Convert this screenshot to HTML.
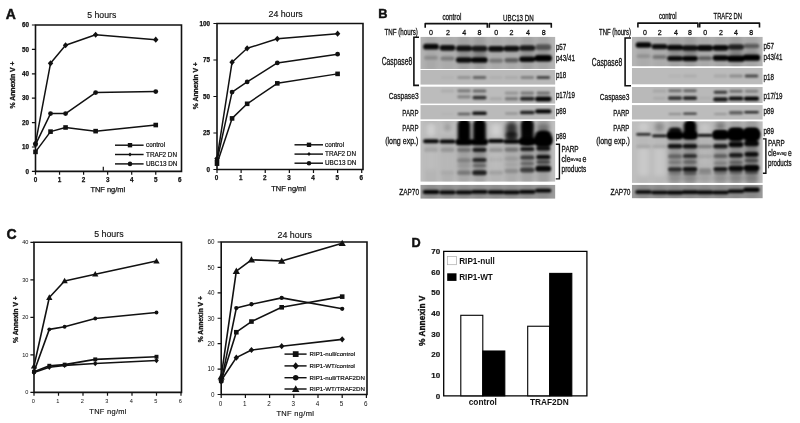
<!DOCTYPE html>
<html lang="en">
<head>
<meta charset="utf-8">
<title>Figure</title>
<style>
html,body{margin:0;padding:0;background:#fff;}
body{width:800px;height:423px;overflow:hidden;}
svg{display:block;font-family:'Liberation Sans',sans-serif;}
</style>
</head>
<body>
<svg width="800" height="423" viewBox="0 0 800 423">
<defs>
<filter id="b1" x="-30%" y="-100%" width="160%" height="300%"><feGaussianBlur stdDeviation="1.2 0.9"/></filter>
<filter id="b2" x="-30%" y="-100%" width="160%" height="300%"><feGaussianBlur stdDeviation="1.6 1.1"/></filter>
<filter id="b3" x="-30%" y="-50%" width="160%" height="200%"><feGaussianBlur stdDeviation="2 2.2"/></filter>
<filter id="bt" x="-5%" y="-5%" width="110%" height="110%"><feGaussianBlur stdDeviation="0.35"/></filter>
</defs>
<rect x="0" y="0" width="800" height="423" fill="#fff"/>

<text transform="translate(5.80,19.00)" font-size="14" font-weight="bold" text-anchor="start" fill="#111" stroke="#111" stroke-width="0.45">A</text>
<text transform="translate(378.20,17.60)" font-size="12.8" font-weight="bold" text-anchor="start" fill="#111" stroke="#111" stroke-width="0.45">B</text>
<text transform="translate(6.60,238.80)" font-size="14" font-weight="bold" text-anchor="start" fill="#111" stroke="#111" stroke-width="0.45">C</text>
<text transform="translate(411.40,247.30)" font-size="12.7" font-weight="bold" text-anchor="start" fill="#111" stroke="#111" stroke-width="0.45">D</text>
<g fill="#111" stroke="none">
<path d="M35.50,25.00H181.50V171.40H35.50z" fill="none" stroke="#111" stroke-width="1.6"/>
<path d="M31.90,171.40H35.50M31.90,147.00H35.50M31.90,122.60H35.50M31.90,98.20H35.50M31.90,73.80H35.50M31.90,49.40H35.50M31.90,25.00H35.50M35.50,171.40v3.4M59.55,171.40v3.4M83.60,171.40v3.4M107.65,171.40v3.4M131.70,171.40v3.4M155.75,171.40v3.4" fill="none" stroke="#111" stroke-width="1.2"/>
<text transform="translate(29.00,173.67)" font-size="6.3" font-weight="bold" text-anchor="end" fill="#111" stroke="#111" stroke-width="0.25">0</text>
<text transform="translate(29.00,149.27)" font-size="6.3" font-weight="bold" text-anchor="end" fill="#111" stroke="#111" stroke-width="0.25">10</text>
<text transform="translate(29.00,124.87)" font-size="6.3" font-weight="bold" text-anchor="end" fill="#111" stroke="#111" stroke-width="0.25">20</text>
<text transform="translate(29.00,100.47)" font-size="6.3" font-weight="bold" text-anchor="end" fill="#111" stroke="#111" stroke-width="0.25">30</text>
<text transform="translate(29.00,76.07)" font-size="6.3" font-weight="bold" text-anchor="end" fill="#111" stroke="#111" stroke-width="0.25">40</text>
<text transform="translate(29.00,51.67)" font-size="6.3" font-weight="bold" text-anchor="end" fill="#111" stroke="#111" stroke-width="0.25">50</text>
<text transform="translate(29.00,27.27)" font-size="6.3" font-weight="bold" text-anchor="end" fill="#111" stroke="#111" stroke-width="0.25">60</text>
<text transform="translate(35.50,182.10)" font-size="6.3" font-weight="bold" text-anchor="middle" fill="#111" stroke="#111" stroke-width="0.25">0</text>
<text transform="translate(59.55,182.10)" font-size="6.3" font-weight="bold" text-anchor="middle" fill="#111" stroke="#111" stroke-width="0.25">1</text>
<text transform="translate(83.60,182.10)" font-size="6.3" font-weight="bold" text-anchor="middle" fill="#111" stroke="#111" stroke-width="0.25">2</text>
<text transform="translate(107.65,182.10)" font-size="6.3" font-weight="bold" text-anchor="middle" fill="#111" stroke="#111" stroke-width="0.25">3</text>
<text transform="translate(131.70,182.10)" font-size="6.3" font-weight="bold" text-anchor="middle" fill="#111" stroke="#111" stroke-width="0.25">4</text>
<text transform="translate(155.75,182.10)" font-size="6.3" font-weight="bold" text-anchor="middle" fill="#111" stroke="#111" stroke-width="0.25">5</text>
<text transform="translate(179.80,182.10)" font-size="6.3" font-weight="bold" text-anchor="middle" fill="#111" stroke="#111" stroke-width="0.25">6</text>
<path d="M35.50,151.88L50.53,131.63L65.56,127.48L95.62,131.14L155.75,125.04" fill="none" stroke="#111" stroke-width="1.5" stroke-linejoin="round"/>
<rect x="33.20" y="149.58" width="4.60" height="4.60"/>
<rect x="48.23" y="129.33" width="4.60" height="4.60"/>
<rect x="63.26" y="125.18" width="4.60" height="4.60"/>
<rect x="93.33" y="128.84" width="4.60" height="4.60"/>
<rect x="153.45" y="122.74" width="4.60" height="4.60"/>
<path d="M35.50,143.34L50.53,63.31L65.56,45.25L95.62,34.76L155.75,39.64" fill="none" stroke="#111" stroke-width="1.5" stroke-linejoin="round"/>
<path d="M32.80,143.34L35.50,140.24L38.20,143.34L35.50,146.44z"/>
<path d="M47.83,63.31L50.53,60.21L53.23,63.31L50.53,66.41z"/>
<path d="M62.86,45.25L65.56,42.15L68.26,45.25L65.56,48.35z"/>
<path d="M92.92,34.76L95.62,31.66L98.33,34.76L95.62,37.86z"/>
<path d="M153.05,39.64L155.75,36.54L158.45,39.64L155.75,42.74z"/>
<path d="M35.50,144.56L50.53,113.57L65.56,113.57L95.62,92.59L155.75,91.61" fill="none" stroke="#111" stroke-width="1.5" stroke-linejoin="round"/>
<circle cx="35.50" cy="144.56" r="2.40"/>
<circle cx="50.53" cy="113.57" r="2.40"/>
<circle cx="65.56" cy="113.57" r="2.40"/>
<circle cx="95.62" cy="92.59" r="2.40"/>
<circle cx="155.75" cy="91.61" r="2.40"/>
</g>
<text transform="translate(101.75,17.80)" font-size="8.7" font-weight="normal" text-anchor="middle" fill="#111" stroke="#111" stroke-width="0.15">5 hours</text>
<text transform="translate(107.80,192.40)" font-size="7.45" font-weight="normal" text-anchor="middle" fill="#111" stroke="#111" stroke-width="0.25">TNF ng/ml</text>
<text transform="translate(14.90,85.00) rotate(-90)" font-size="6.85" font-weight="bold" text-anchor="middle" fill="#111" stroke="#111" stroke-width="0.3">% Annexin V +</text>
<g fill="#111">
<path d="M115.00,145.20H143.60" stroke="#111" stroke-width="1.45" fill="none"/>
<rect x="127.81" y="143.01" width="4.37" height="4.37"/>
<text transform="translate(146.00,147.36)" font-size="6.35" font-weight="normal" text-anchor="start" fill="#111" stroke="#111" stroke-width="0.2">control</text>
<path d="M115.00,154.50H143.60" stroke="#111" stroke-width="1.45" fill="none"/>
<path d="M128.25,154.50L130.00,152.49L131.75,154.50L130.00,156.51z"/>
<text transform="translate(146.00,156.66)" font-size="6.35" font-weight="normal" text-anchor="start" fill="#111" stroke="#111" stroke-width="0.2">TRAF2 DN</text>
<path d="M115.00,163.90H143.60" stroke="#111" stroke-width="1.45" fill="none"/>
<circle cx="130.00" cy="163.90" r="2.28"/>
<text transform="translate(146.00,166.06)" font-size="6.35" font-weight="normal" text-anchor="start" fill="#111" stroke="#111" stroke-width="0.2">UBC13 DN</text>
</g>
<path d="M103.3,166.8v4" stroke="#111" stroke-width="1.2"/>
<g fill="#111" stroke="none">
<path d="M217.00,23.50H363.00V169.50H217.00z" fill="none" stroke="#111" stroke-width="1.6"/>
<path d="M213.40,169.50H217.00M213.40,133.00H217.00M213.40,96.50H217.00M213.40,60.00H217.00M213.40,23.50H217.00M217.00,169.50v3.4M241.12,169.50v3.4M265.24,169.50v3.4M289.36,169.50v3.4M313.48,169.50v3.4M337.60,169.50v3.4M361.72,169.50v3.4" fill="none" stroke="#111" stroke-width="1.2"/>
<text transform="translate(210.10,171.77)" font-size="6.3" font-weight="bold" text-anchor="end" fill="#111" stroke="#111" stroke-width="0.25">0</text>
<text transform="translate(210.10,135.27)" font-size="6.3" font-weight="bold" text-anchor="end" fill="#111" stroke="#111" stroke-width="0.25">25</text>
<text transform="translate(210.10,98.77)" font-size="6.3" font-weight="bold" text-anchor="end" fill="#111" stroke="#111" stroke-width="0.25">50</text>
<text transform="translate(210.10,62.27)" font-size="6.3" font-weight="bold" text-anchor="end" fill="#111" stroke="#111" stroke-width="0.25">75</text>
<text transform="translate(210.10,25.77)" font-size="6.3" font-weight="bold" text-anchor="end" fill="#111" stroke="#111" stroke-width="0.25">100</text>
<text transform="translate(216.60,180.10)" font-size="6.3" font-weight="bold" text-anchor="middle" fill="#111" stroke="#111" stroke-width="0.25">0</text>
<text transform="translate(240.72,180.10)" font-size="6.3" font-weight="bold" text-anchor="middle" fill="#111" stroke="#111" stroke-width="0.25">1</text>
<text transform="translate(264.84,180.10)" font-size="6.3" font-weight="bold" text-anchor="middle" fill="#111" stroke="#111" stroke-width="0.25">2</text>
<text transform="translate(288.96,180.10)" font-size="6.3" font-weight="bold" text-anchor="middle" fill="#111" stroke="#111" stroke-width="0.25">3</text>
<text transform="translate(313.08,180.10)" font-size="6.3" font-weight="bold" text-anchor="middle" fill="#111" stroke="#111" stroke-width="0.25">4</text>
<text transform="translate(337.20,180.10)" font-size="6.3" font-weight="bold" text-anchor="middle" fill="#111" stroke="#111" stroke-width="0.25">5</text>
<text transform="translate(361.32,180.10)" font-size="6.3" font-weight="bold" text-anchor="middle" fill="#111" stroke="#111" stroke-width="0.25">6</text>
<path d="M217.00,163.66L232.07,118.40L247.15,103.80L277.30,83.36L337.60,73.87" fill="none" stroke="#111" stroke-width="1.5" stroke-linejoin="round"/>
<rect x="214.70" y="161.36" width="4.60" height="4.60"/>
<rect x="229.77" y="116.10" width="4.60" height="4.60"/>
<rect x="244.85" y="101.50" width="4.60" height="4.60"/>
<rect x="275.00" y="81.06" width="4.60" height="4.60"/>
<rect x="335.30" y="71.57" width="4.60" height="4.60"/>
<path d="M217.00,158.55L232.07,62.19L247.15,48.32L277.30,38.83L337.60,33.72" fill="none" stroke="#111" stroke-width="1.5" stroke-linejoin="round"/>
<path d="M214.30,158.55L217.00,155.45L219.70,158.55L217.00,161.65z"/>
<path d="M229.38,62.19L232.07,59.09L234.77,62.19L232.07,65.29z"/>
<path d="M244.45,48.32L247.15,45.22L249.85,48.32L247.15,51.42z"/>
<path d="M274.60,38.83L277.30,35.73L280.00,38.83L277.30,41.93z"/>
<path d="M334.90,33.72L337.60,30.62L340.30,33.72L337.60,36.82z"/>
<path d="M217.00,160.74L232.07,92.12L247.15,81.90L277.30,62.92L337.60,54.16" fill="none" stroke="#111" stroke-width="1.5" stroke-linejoin="round"/>
<circle cx="217.00" cy="160.74" r="2.40"/>
<circle cx="232.07" cy="92.12" r="2.40"/>
<circle cx="247.15" cy="81.90" r="2.40"/>
<circle cx="277.30" cy="62.92" r="2.40"/>
<circle cx="337.60" cy="54.16" r="2.40"/>
</g>
<text transform="translate(285.60,16.60)" font-size="8.8" font-weight="normal" text-anchor="middle" fill="#111" stroke="#111" stroke-width="0.15">24 hours</text>
<text transform="translate(288.60,191.40)" font-size="7.45" font-weight="normal" text-anchor="middle" fill="#111" stroke="#111" stroke-width="0.25">TNF ng/ml</text>
<text transform="translate(198.00,85.70) rotate(-90)" font-size="6.85" font-weight="bold" text-anchor="middle" fill="#111" stroke="#111" stroke-width="0.3">% Annexin V +</text>
<g fill="#111">
<path d="M294.50,144.80H323.00" stroke="#111" stroke-width="1.45" fill="none"/>
<rect x="306.81" y="142.62" width="4.37" height="4.37"/>
<text transform="translate(325.00,146.96)" font-size="6.35" font-weight="normal" text-anchor="start" fill="#111" stroke="#111" stroke-width="0.2">control</text>
<path d="M294.50,154.10H323.00" stroke="#111" stroke-width="1.45" fill="none"/>
<path d="M307.25,154.10L309.00,152.09L310.75,154.10L309.00,156.11z"/>
<text transform="translate(325.00,156.26)" font-size="6.35" font-weight="normal" text-anchor="start" fill="#111" stroke="#111" stroke-width="0.2">TRAF2 DN</text>
<path d="M294.50,163.20H323.00" stroke="#111" stroke-width="1.45" fill="none"/>
<circle cx="309.00" cy="163.20" r="2.28"/>
<text transform="translate(325.00,165.36)" font-size="6.35" font-weight="normal" text-anchor="start" fill="#111" stroke="#111" stroke-width="0.2">UBC13 DN</text>
</g>
<g fill="#111" stroke="none">
<path d="M34.00,242.30H181.50V392.40H34.00z" fill="none" stroke="#111" stroke-width="1.6"/>
<path d="M30.40,392.40H34.00M30.40,354.88H34.00M30.40,317.35H34.00M30.40,279.82H34.00M30.40,242.30H34.00M34.00,392.40v3.4M58.50,392.40v3.4M83.00,392.40v3.4M107.50,392.40v3.4M132.00,392.40v3.4M156.50,392.40v3.4M181.00,392.40v3.4" fill="none" stroke="#111" stroke-width="1.2"/>
<text transform="translate(28.40,394.42)" font-size="5.6" font-weight="normal" text-anchor="end" fill="#111">0</text>
<text transform="translate(28.40,356.89)" font-size="5.6" font-weight="normal" text-anchor="end" fill="#111">10</text>
<text transform="translate(28.40,319.37)" font-size="5.6" font-weight="normal" text-anchor="end" fill="#111">20</text>
<text transform="translate(28.40,281.84)" font-size="5.6" font-weight="normal" text-anchor="end" fill="#111">30</text>
<text transform="translate(28.40,244.32)" font-size="5.6" font-weight="normal" text-anchor="end" fill="#111">40</text>
<text transform="translate(33.20,403.00)" font-size="5.6" font-weight="normal" text-anchor="middle" fill="#111">0</text>
<text transform="translate(57.70,403.00)" font-size="5.6" font-weight="normal" text-anchor="middle" fill="#111">1</text>
<text transform="translate(82.20,403.00)" font-size="5.6" font-weight="normal" text-anchor="middle" fill="#111">2</text>
<text transform="translate(106.70,403.00)" font-size="5.6" font-weight="normal" text-anchor="middle" fill="#111">3</text>
<text transform="translate(131.20,403.00)" font-size="5.6" font-weight="normal" text-anchor="middle" fill="#111">4</text>
<text transform="translate(155.70,403.00)" font-size="5.6" font-weight="normal" text-anchor="middle" fill="#111">5</text>
<text transform="translate(180.20,403.00)" font-size="5.6" font-weight="normal" text-anchor="middle" fill="#111">6</text>
<path d="M34.00,366.13L49.31,297.46L64.62,280.95L95.25,274.20L156.50,261.06" fill="none" stroke="#111" stroke-width="1.6" stroke-linejoin="round"/>
<path d="M30.85,368.55L34.00,362.98L37.15,368.55z"/>
<path d="M46.16,299.88L49.31,294.31L52.46,299.88z"/>
<path d="M61.48,283.37L64.62,277.80L67.78,283.37z"/>
<path d="M92.10,276.61L95.25,271.05L98.40,276.61z"/>
<path d="M153.35,263.48L156.50,257.91L159.65,263.48z"/>
<path d="M34.00,371.76L49.31,329.36L64.62,326.73L95.25,318.48L156.50,312.47" fill="none" stroke="#111" stroke-width="1.6" stroke-linejoin="round"/>
<circle cx="34.00" cy="371.76" r="1.92"/>
<circle cx="49.31" cy="329.36" r="1.92"/>
<circle cx="64.62" cy="326.73" r="1.92"/>
<circle cx="95.25" cy="318.48" r="1.92"/>
<circle cx="156.50" cy="312.47" r="1.92"/>
<path d="M34.00,371.76L49.31,365.76L64.62,364.63L95.25,359.38L156.50,356.75" fill="none" stroke="#111" stroke-width="1.6" stroke-linejoin="round"/>
<rect x="32.05" y="369.81" width="3.91" height="3.91"/>
<rect x="47.36" y="363.80" width="3.91" height="3.91"/>
<rect x="62.67" y="362.68" width="3.91" height="3.91"/>
<rect x="93.30" y="357.42" width="3.91" height="3.91"/>
<rect x="154.54" y="354.80" width="3.91" height="3.91"/>
<path d="M34.00,372.51L49.31,367.26L64.62,365.38L95.25,363.51L156.50,360.50" fill="none" stroke="#111" stroke-width="1.6" stroke-linejoin="round"/>
<path d="M31.70,372.51L34.00,369.88L36.30,372.51L34.00,375.15z"/>
<path d="M47.02,367.26L49.31,364.62L51.61,367.26L49.31,369.89z"/>
<path d="M62.33,365.38L64.62,362.75L66.92,365.38L64.62,368.02z"/>
<path d="M92.95,363.51L95.25,360.87L97.55,363.51L95.25,366.14z"/>
<path d="M154.21,360.50L156.50,357.87L158.79,360.50L156.50,363.14z"/>
</g>
<text transform="translate(108.90,237.20)" font-size="8.8" font-weight="normal" text-anchor="middle" fill="#111" stroke="#111" stroke-width="0.15">5 hours</text>
<text transform="translate(108.00,413.60)" font-size="7.45" font-weight="normal" text-anchor="middle" fill="#111" letter-spacing="0.3" stroke="#111" stroke-width="0.15">TNF ng/ml</text>
<text transform="translate(17.50,319.60) rotate(-90)" font-size="6.82" font-weight="bold" text-anchor="middle" fill="#111" stroke="#111" stroke-width="0.3">% Annexin V +</text>
<g fill="#111" stroke="none">
<path d="M221.20,242.00H367.00V394.50H221.20z" fill="none" stroke="#111" stroke-width="1.6"/>
<path d="M217.60,394.50H221.20M217.60,369.08H221.20M217.60,343.66H221.20M217.60,318.24H221.20M217.60,292.82H221.20M217.60,267.40H221.20M217.60,241.98H221.20M221.20,394.50v3.4M245.40,394.50v3.4M269.60,394.50v3.4M293.80,394.50v3.4M318.00,394.50v3.4M342.20,394.50v3.4M366.40,394.50v3.4" fill="none" stroke="#111" stroke-width="1.2"/>
<text transform="translate(214.50,396.77)" font-size="6.3" font-weight="normal" text-anchor="end" fill="#111">0</text>
<text transform="translate(214.50,371.35)" font-size="6.3" font-weight="normal" text-anchor="end" fill="#111">10</text>
<text transform="translate(214.50,345.93)" font-size="6.3" font-weight="normal" text-anchor="end" fill="#111">20</text>
<text transform="translate(214.50,320.51)" font-size="6.3" font-weight="normal" text-anchor="end" fill="#111">30</text>
<text transform="translate(214.50,295.09)" font-size="6.3" font-weight="normal" text-anchor="end" fill="#111">40</text>
<text transform="translate(214.50,269.67)" font-size="6.3" font-weight="normal" text-anchor="end" fill="#111">50</text>
<text transform="translate(214.50,244.25)" font-size="6.3" font-weight="normal" text-anchor="end" fill="#111">60</text>
<text transform="translate(220.60,405.90)" font-size="6.3" font-weight="normal" text-anchor="middle" fill="#111">0</text>
<text transform="translate(244.80,405.90)" font-size="6.3" font-weight="normal" text-anchor="middle" fill="#111">1</text>
<text transform="translate(269.00,405.90)" font-size="6.3" font-weight="normal" text-anchor="middle" fill="#111">2</text>
<text transform="translate(293.20,405.90)" font-size="6.3" font-weight="normal" text-anchor="middle" fill="#111">3</text>
<text transform="translate(317.40,405.90)" font-size="6.3" font-weight="normal" text-anchor="middle" fill="#111">4</text>
<text transform="translate(341.60,405.90)" font-size="6.3" font-weight="normal" text-anchor="middle" fill="#111">5</text>
<text transform="translate(365.80,405.90)" font-size="6.3" font-weight="normal" text-anchor="middle" fill="#111">6</text>
<path d="M221.20,376.71L236.32,271.21L251.45,259.77L281.70,261.05L342.20,243.25" fill="none" stroke="#111" stroke-width="1.6" stroke-linejoin="round"/>
<path d="M217.60,379.47L221.20,373.11L224.80,379.47z"/>
<path d="M232.72,273.97L236.32,267.61L239.92,273.97z"/>
<path d="M247.85,262.53L251.45,256.17L255.05,262.53z"/>
<path d="M278.10,263.81L281.70,257.44L285.30,263.81z"/>
<path d="M338.60,246.01L342.20,239.65L345.80,246.01z"/>
<path d="M221.20,381.79L236.32,308.07L251.45,304.26L281.70,297.90L342.20,308.83" fill="none" stroke="#111" stroke-width="1.6" stroke-linejoin="round"/>
<circle cx="221.20" cy="381.79" r="2.16"/>
<circle cx="236.32" cy="308.07" r="2.16"/>
<circle cx="251.45" cy="304.26" r="2.16"/>
<circle cx="281.70" cy="297.90" r="2.16"/>
<circle cx="342.20" cy="308.83" r="2.16"/>
<path d="M221.20,380.52L236.32,332.22L251.45,321.54L281.70,307.31L342.20,296.63" fill="none" stroke="#111" stroke-width="1.6" stroke-linejoin="round"/>
<rect x="218.90" y="378.22" width="4.60" height="4.60"/>
<rect x="234.02" y="329.92" width="4.60" height="4.60"/>
<rect x="249.15" y="319.24" width="4.60" height="4.60"/>
<rect x="279.40" y="305.01" width="4.60" height="4.60"/>
<rect x="339.90" y="294.33" width="4.60" height="4.60"/>
<path d="M221.20,380.52L236.32,357.64L251.45,350.01L281.70,346.20L342.20,339.34" fill="none" stroke="#111" stroke-width="1.6" stroke-linejoin="round"/>
<path d="M218.50,380.52L221.20,377.42L223.90,380.52L221.20,383.62z"/>
<path d="M233.62,357.64L236.32,354.54L239.02,357.64L236.32,360.74z"/>
<path d="M248.75,350.01L251.45,346.91L254.15,350.01L251.45,353.12z"/>
<path d="M279.00,346.20L281.70,343.10L284.40,346.20L281.70,349.30z"/>
<path d="M339.50,339.34L342.20,336.24L344.90,339.34L342.20,342.44z"/>
</g>
<text transform="translate(294.75,237.50)" font-size="8.87" font-weight="normal" text-anchor="middle" fill="#111" stroke="#111" stroke-width="0.15">24 hours</text>
<text transform="translate(295.30,416.40)" font-size="7.5" font-weight="normal" text-anchor="middle" fill="#111" letter-spacing="0.3" stroke="#111" stroke-width="0.15">TNF ng/ml</text>
<text transform="translate(202.90,319.20) rotate(-90)" font-size="6.7" font-weight="bold" text-anchor="middle" fill="#111" stroke="#111" stroke-width="0.3">% Annexin V +</text>
<g fill="#111">
<path d="M284.50,354.10H306.60" stroke="#111" stroke-width="1.45" fill="none"/>
<rect x="292.82" y="351.23" width="5.75" height="5.75"/>
<text transform="translate(309.60,356.19)" font-size="6.15" font-weight="normal" text-anchor="start" fill="#111" stroke="#111" stroke-width="0.2">RIP1-null/control</text>
<path d="M284.50,365.90H306.60" stroke="#111" stroke-width="1.45" fill="none"/>
<path d="M292.59,365.90L295.70,362.33L298.81,365.90L295.70,369.46z"/>
<text transform="translate(309.60,367.99)" font-size="6.15" font-weight="normal" text-anchor="start" fill="#111" stroke="#111" stroke-width="0.2">RIP1-WT/control</text>
<path d="M284.50,377.70H306.60" stroke="#111" stroke-width="1.45" fill="none"/>
<circle cx="295.70" cy="377.70" r="2.76"/>
<text transform="translate(309.60,379.79)" font-size="6.15" font-weight="normal" text-anchor="start" fill="#111" stroke="#111" stroke-width="0.2">RIP1-null/TRAF2DN</text>
<path d="M284.50,389.00H306.60" stroke="#111" stroke-width="1.45" fill="none"/>
<path d="M291.95,391.88L295.70,385.25L299.45,391.88z"/>
<text transform="translate(309.60,391.09)" font-size="6.15" font-weight="normal" text-anchor="start" fill="#111" stroke="#111" stroke-width="0.2">RIP1-WT/TRAF2DN</text>
</g>
<g fill="#000">
<path d="M443.7,251.3H586.9V395.8H443.7z" fill="none" stroke="#000" stroke-width="1.3"/>
<text transform="translate(440.10,398.65)" font-size="8.0" font-weight="bold" text-anchor="end" fill="#111" stroke="#111" stroke-width="0.2">0</text>
<text transform="translate(440.10,378.01)" font-size="8.0" font-weight="bold" text-anchor="end" fill="#111" stroke="#111" stroke-width="0.2">10</text>
<text transform="translate(440.10,357.37)" font-size="8.0" font-weight="bold" text-anchor="end" fill="#111" stroke="#111" stroke-width="0.2">20</text>
<text transform="translate(440.10,336.73)" font-size="8.0" font-weight="bold" text-anchor="end" fill="#111" stroke="#111" stroke-width="0.2">30</text>
<text transform="translate(440.10,316.09)" font-size="8.0" font-weight="bold" text-anchor="end" fill="#111" stroke="#111" stroke-width="0.2">40</text>
<text transform="translate(440.10,295.45)" font-size="8.0" font-weight="bold" text-anchor="end" fill="#111" stroke="#111" stroke-width="0.2">50</text>
<text transform="translate(440.10,274.81)" font-size="8.0" font-weight="bold" text-anchor="end" fill="#111" stroke="#111" stroke-width="0.2">60</text>
<text transform="translate(440.10,254.17)" font-size="8.0" font-weight="bold" text-anchor="end" fill="#111" stroke="#111" stroke-width="0.2">70</text>
<rect x="460.8" y="315.30" width="22.00" height="80.50" fill="#fff" stroke="#000" stroke-width="1.1"/>
<rect x="482.8" y="351.01" width="22.00" height="44.79" fill="#000" stroke="#000" stroke-width="1.1"/>
<rect x="527.7" y="326.24" width="22.00" height="69.56" fill="#fff" stroke="#000" stroke-width="1.1"/>
<rect x="549.7" y="273.40" width="22.10" height="122.40" fill="#000" stroke="#000" stroke-width="1.1"/>
<rect x="447.4" y="256.4" width="9" height="8.3" fill="#fff" stroke="#aaa" stroke-width="0.7"/>
<rect x="447.2" y="273.3" width="9.3" height="7.6" fill="#000"/>
<text transform="translate(459.20,263.60)" font-size="8.2" font-weight="bold" text-anchor="start" fill="#111">RIP1-null</text>
<text transform="translate(459.20,279.90)" font-size="8.2" font-weight="bold" text-anchor="start" fill="#111">RIP1-WT</text>
<text transform="translate(482.80,405.30)" font-size="8.3" font-weight="bold" text-anchor="middle" fill="#111">control</text>
<text transform="translate(549.30,404.60)" font-size="8.3" font-weight="bold" text-anchor="middle" fill="#111">TRAF2DN</text>
<text transform="translate(424.60,320.80) rotate(-90)" font-size="8.4" font-weight="bold" text-anchor="middle" fill="#111" stroke="#111" stroke-width="0.35">% Annexin V</text>
</g>
<clipPath id="c1"><rect x="420.3" y="36.7" width="135.10" height="32.30"/></clipPath>
<g clip-path="url(#c1)">
<rect x="420.3" y="36.7" width="135.10" height="32.30" fill="#b4b4b4"/>
<g filter="url(#b1)" fill="#000">
<rect x="423.17" y="43.84" width="15.66" height="5.73" rx="2.60" fill-opacity="0.95"/>
<rect x="439.67" y="44.93" width="15.66" height="5.73" rx="2.60" fill-opacity="0.92"/>
<rect x="456.17" y="45.53" width="15.66" height="5.73" rx="2.60" fill-opacity="0.9"/>
<rect x="471.67" y="45.73" width="15.66" height="5.73" rx="2.60" fill-opacity="0.85"/>
<rect x="488.17" y="45.93" width="15.66" height="5.73" rx="2.60" fill-opacity="0.92"/>
<rect x="503.67" y="45.73" width="15.66" height="5.73" rx="2.60" fill-opacity="0.92"/>
<rect x="519.47" y="45.13" width="15.66" height="5.73" rx="2.60" fill-opacity="0.85"/>
<rect x="535.47" y="44.34" width="15.66" height="5.73" rx="2.60" fill-opacity="0.5"/>
<rect x="423.98" y="55.74" width="14.04" height="4.12" rx="1.87" fill-opacity="0.18"/>
<rect x="440.48" y="56.44" width="14.04" height="4.12" rx="1.87" fill-opacity="0.28"/>
<rect x="455.90" y="57.37" width="16.20" height="5.27" rx="2.40" fill-opacity="0.92"/>
<rect x="471.40" y="57.19" width="16.20" height="5.61" rx="2.55" fill-opacity="0.97"/>
<rect x="488.98" y="58.54" width="14.04" height="4.12" rx="1.87" fill-opacity="0.3"/>
<rect x="504.48" y="58.12" width="14.04" height="4.35" rx="1.98" fill-opacity="0.45"/>
<rect x="519.20" y="56.61" width="16.20" height="5.38" rx="2.45" fill-opacity="0.95"/>
<rect x="534.66" y="55.09" width="17.28" height="6.42" rx="2.92" fill-opacity="1"/>
</g>
<g filter="url(#b3)" fill="#000">
<rect x="457.00" y="50.00" width="14.00" height="8.00" rx="3.64" fill-opacity="0.12"/>
<rect x="472.50" y="50.00" width="14.00" height="8.00" rx="3.64" fill-opacity="0.2"/>
<rect x="520.30" y="50.00" width="14.00" height="8.00" rx="3.64" fill-opacity="0.1"/>
<rect x="536.30" y="50.00" width="14.00" height="8.00" rx="3.64" fill-opacity="0.12"/>
<rect x="424.50" y="33.00" width="13.00" height="40.00" rx="5.91" fill-opacity="0.06"/>
<rect x="441.00" y="33.00" width="13.00" height="40.00" rx="5.91" fill-opacity="0.05"/>
<rect x="457.50" y="33.00" width="13.00" height="40.00" rx="5.91" fill-opacity="0.1"/>
<rect x="473.00" y="33.00" width="13.00" height="40.00" rx="5.91" fill-opacity="0.12"/>
<rect x="489.50" y="33.00" width="13.00" height="40.00" rx="5.91" fill-opacity="0.06"/>
<rect x="505.00" y="33.00" width="13.00" height="40.00" rx="5.91" fill-opacity="0.06"/>
<rect x="520.80" y="33.00" width="13.00" height="40.00" rx="5.91" fill-opacity="0.1"/>
<rect x="536.80" y="33.00" width="13.00" height="40.00" rx="5.91" fill-opacity="0.08"/>
</g>
</g>
<clipPath id="c2"><rect x="420.3" y="70.0" width="135.10" height="14.80"/></clipPath>
<g clip-path="url(#c2)">
<rect x="420.3" y="70.0" width="135.10" height="14.80" fill="#b9b9b9"/>
<g filter="url(#b1)" fill="#000">
<rect x="440.75" y="76.02" width="13.50" height="2.96" rx="1.35" fill-opacity="0.03"/>
<rect x="457.25" y="76.02" width="13.50" height="2.96" rx="1.35" fill-opacity="0.2"/>
<rect x="472.75" y="76.02" width="13.50" height="2.96" rx="1.35" fill-opacity="0.45"/>
<rect x="489.25" y="76.02" width="13.50" height="2.96" rx="1.35" fill-opacity="0.05"/>
<rect x="504.75" y="76.02" width="13.50" height="2.96" rx="1.35" fill-opacity="0.08"/>
<rect x="520.55" y="76.02" width="13.50" height="2.96" rx="1.35" fill-opacity="0.3"/>
<rect x="536.55" y="76.02" width="13.50" height="2.96" rx="1.35" fill-opacity="0.62"/>
</g>
</g>
<clipPath id="c3"><rect x="420.3" y="86.4" width="135.10" height="17.40"/></clipPath>
<g clip-path="url(#c3)">
<rect x="420.3" y="86.4" width="135.10" height="17.40" fill="#bcbcbc"/>
<g filter="url(#b1)" fill="#000">
<rect x="440.75" y="89.41" width="13.50" height="3.19" rx="1.45" fill-opacity="0.08"/>
<rect x="457.25" y="89.20" width="13.50" height="3.19" rx="1.45" fill-opacity="0.35"/>
<rect x="472.75" y="89.41" width="13.50" height="3.19" rx="1.45" fill-opacity="0.45"/>
<rect x="504.75" y="91.61" width="13.50" height="3.19" rx="1.45" fill-opacity="0.2"/>
<rect x="520.55" y="91.61" width="13.50" height="3.19" rx="1.45" fill-opacity="0.35"/>
<rect x="536.55" y="91.61" width="13.50" height="3.19" rx="1.45" fill-opacity="0.4"/>
<rect x="457.25" y="95.20" width="13.50" height="3.19" rx="1.45" fill-opacity="0.3"/>
<rect x="472.48" y="95.77" width="14.04" height="3.65" rx="1.66" fill-opacity="0.72"/>
<rect x="489.52" y="97.16" width="12.96" height="3.08" rx="1.40" fill-opacity="0.1"/>
<rect x="504.75" y="96.99" width="13.50" height="3.42" rx="1.55" fill-opacity="0.35"/>
<rect x="520.01" y="96.76" width="14.58" height="3.88" rx="1.76" fill-opacity="0.8"/>
<rect x="535.20" y="96.60" width="16.20" height="4.80" rx="2.18" fill-opacity="0.97"/>
</g>
</g>
<clipPath id="c4"><rect x="420.3" y="105.1" width="135.10" height="14.50"/></clipPath>
<g clip-path="url(#c4)">
<rect x="420.3" y="105.1" width="135.10" height="14.50" fill="#bababa"/>
<g filter="url(#b1)" fill="#000">
<rect x="441.02" y="112.75" width="12.96" height="2.50" rx="1.14" fill-opacity="0.03"/>
<rect x="457.52" y="112.86" width="12.96" height="2.27" rx="1.03" fill-opacity="0.5"/>
<rect x="472.21" y="111.59" width="14.58" height="3.42" rx="1.55" fill-opacity="0.9"/>
<rect x="505.02" y="112.25" width="12.96" height="2.50" rx="1.14" fill-opacity="0.2"/>
<rect x="520.01" y="110.67" width="14.58" height="3.65" rx="1.66" fill-opacity="0.82"/>
<rect x="535.20" y="109.13" width="16.20" height="4.34" rx="1.97" fill-opacity="0.97"/>
</g>
</g>
<clipPath id="c5"><rect x="420.3" y="121.0" width="135.10" height="60.80"/></clipPath>
<g clip-path="url(#c5)">
<rect x="420.3" y="121.0" width="135.10" height="60.80" fill="#c0c0c0"/>
<g filter="url(#b3)" fill="#fff">
<rect x="426.50" y="123.50" width="9.00" height="13.00" rx="3" fill-opacity="0.45"/>
<rect x="441.50" y="122.50" width="12.00" height="13.00" rx="3" fill-opacity="0.3"/>
<rect x="491.00" y="123.50" width="10.00" height="13.00" rx="3" fill-opacity="0.45"/>
<rect x="426.00" y="150.00" width="10.00" height="20.00" rx="3" fill-opacity="0.15"/>
<rect x="442.50" y="152.00" width="10.00" height="20.00" rx="3" fill-opacity="0.12"/>
<rect x="491.00" y="152.00" width="10.00" height="20.00" rx="3" fill-opacity="0.12"/>
</g>
<g filter="url(#b1)" fill="#000">
<rect x="423.17" y="139.24" width="15.66" height="3.92" rx="1.78" fill-opacity="0.95"/>
<rect x="439.67" y="139.43" width="15.66" height="4.15" rx="1.89" fill-opacity="0.95"/>
<rect x="455.63" y="138.78" width="16.74" height="6.45" rx="2.93" fill-opacity="1"/>
<rect x="471.13" y="138.78" width="16.74" height="6.45" rx="2.93" fill-opacity="1"/>
<rect x="488.17" y="139.04" width="15.66" height="3.92" rx="1.78" fill-opacity="0.95"/>
<rect x="503.67" y="139.19" width="15.66" height="4.61" rx="2.10" fill-opacity="0.95"/>
<rect x="518.93" y="137.70" width="16.74" height="7.60" rx="3.45" fill-opacity="1"/>
<rect x="534.12" y="136.05" width="18.36" height="9.90" rx="4.50" fill-opacity="1"/>
<rect x="423.98" y="147.73" width="14.04" height="4.15" rx="1.89" fill-opacity="0.1"/>
<rect x="440.48" y="147.73" width="14.04" height="4.15" rx="1.89" fill-opacity="0.15"/>
<rect x="456.98" y="147.73" width="14.04" height="4.15" rx="1.89" fill-opacity="0.3"/>
<rect x="472.48" y="147.73" width="14.04" height="4.15" rx="1.89" fill-opacity="0.8"/>
<rect x="488.98" y="147.93" width="14.04" height="4.15" rx="1.89" fill-opacity="0.18"/>
<rect x="504.48" y="147.53" width="14.04" height="4.15" rx="1.89" fill-opacity="0.32"/>
<rect x="520.28" y="146.93" width="14.04" height="4.15" rx="1.89" fill-opacity="0.82"/>
<rect x="536.28" y="146.33" width="14.04" height="4.15" rx="1.89" fill-opacity="0.92"/>
<rect x="456.98" y="158.23" width="14.04" height="4.15" rx="1.89" fill-opacity="0.2"/>
<rect x="472.48" y="157.93" width="14.04" height="4.15" rx="1.89" fill-opacity="0.75"/>
<rect x="488.98" y="157.43" width="14.04" height="4.15" rx="1.89" fill-opacity="0.05"/>
<rect x="504.48" y="156.53" width="14.04" height="4.15" rx="1.89" fill-opacity="0.1"/>
<rect x="520.28" y="155.43" width="14.04" height="4.15" rx="1.89" fill-opacity="0.6"/>
<rect x="536.28" y="154.93" width="14.04" height="4.15" rx="1.89" fill-opacity="0.9"/>
<rect x="457.25" y="163.77" width="13.50" height="3.46" rx="1.57" fill-opacity="0.06"/>
<rect x="472.75" y="163.87" width="13.50" height="3.46" rx="1.57" fill-opacity="0.3"/>
<rect x="504.75" y="162.77" width="13.50" height="3.46" rx="1.57" fill-opacity="0.05"/>
<rect x="520.55" y="161.77" width="13.50" height="3.46" rx="1.57" fill-opacity="0.32"/>
<rect x="536.55" y="160.27" width="13.50" height="3.46" rx="1.57" fill-opacity="0.5"/>
<rect x="440.48" y="170.62" width="14.04" height="4.15" rx="1.89" fill-opacity="0.05"/>
<rect x="456.98" y="170.51" width="14.04" height="4.38" rx="1.99" fill-opacity="0.28"/>
<rect x="472.21" y="170.16" width="14.58" height="5.07" rx="2.30" fill-opacity="0.8"/>
<rect x="488.98" y="170.43" width="14.04" height="4.15" rx="1.89" fill-opacity="0.12"/>
<rect x="504.48" y="168.81" width="14.04" height="4.38" rx="1.99" fill-opacity="0.18"/>
<rect x="520.01" y="167.47" width="14.58" height="5.07" rx="2.30" fill-opacity="0.6"/>
<rect x="535.47" y="165.82" width="15.66" height="5.76" rx="2.62" fill-opacity="0.95"/>
</g>
<g filter="url(#b2)" fill="#000">
<rect x="457.75" y="119.00" width="12.50" height="24.00" rx="5.68" fill-opacity="1.0"/>
<rect x="473.25" y="119.00" width="12.50" height="24.00" rx="5.68" fill-opacity="1.0"/>
<rect x="505.50" y="132.00" width="12.00" height="8.00" rx="3.64" fill-opacity="0.5"/>
<rect x="521.05" y="119.00" width="12.50" height="26.00" rx="5.68" fill-opacity="0.97"/>
<rect x="534.80" y="130.50" width="17.00" height="14.00" rx="6.36" fill-opacity="1.0"/>
</g>
<g filter="url(#b3)" fill="#000">
<rect x="444.00" y="123.50" width="7.00" height="8.00" rx="3.18" fill-opacity="0.2"/>
<rect x="506.00" y="122.00" width="11.00" height="18.00" rx="5.00" fill-opacity="0.7"/>
<rect x="522.80" y="120.00" width="9.00" height="12.00" rx="4.09" fill-opacity="0.6"/>
<rect x="537.30" y="124.00" width="12.00" height="8.00" rx="3.64" fill-opacity="0.3"/>
<rect x="457.50" y="132.00" width="13.00" height="40.00" rx="5.91" fill-opacity="0.05"/>
<rect x="473.00" y="132.00" width="13.00" height="40.00" rx="5.91" fill-opacity="0.12"/>
<rect x="520.80" y="132.00" width="13.00" height="40.00" rx="5.91" fill-opacity="0.1"/>
<rect x="536.80" y="132.00" width="13.00" height="40.00" rx="5.91" fill-opacity="0.15"/>
<rect x="424.25" y="116.00" width="13.50" height="70.00" rx="6.14" fill-opacity="0.06"/>
<rect x="440.75" y="116.00" width="13.50" height="70.00" rx="6.14" fill-opacity="0.08"/>
<rect x="457.25" y="116.00" width="13.50" height="70.00" rx="6.14" fill-opacity="0.12"/>
<rect x="472.75" y="116.00" width="13.50" height="70.00" rx="6.14" fill-opacity="0.14"/>
<rect x="489.25" y="116.00" width="13.50" height="70.00" rx="6.14" fill-opacity="0.06"/>
<rect x="504.75" y="116.00" width="13.50" height="70.00" rx="6.14" fill-opacity="0.1"/>
<rect x="520.55" y="116.00" width="13.50" height="70.00" rx="6.14" fill-opacity="0.14"/>
<rect x="536.55" y="116.00" width="13.50" height="70.00" rx="6.14" fill-opacity="0.16"/>
</g>
</g>
<clipPath id="c6"><rect x="420.3" y="184.7" width="135.10" height="14.10"/></clipPath>
<g clip-path="url(#c6)">
<rect x="420.3" y="184.7" width="135.10" height="14.10" fill="#9c9c9c"/>
<g filter="url(#b1)" fill="#000">
<rect x="422.90" y="190.10" width="16.20" height="3.80" rx="1.73" fill-opacity="0.97"/>
<rect x="439.40" y="190.40" width="16.20" height="3.80" rx="1.73" fill-opacity="0.97"/>
<rect x="455.90" y="190.50" width="16.20" height="3.80" rx="1.73" fill-opacity="0.97"/>
<rect x="471.40" y="189.90" width="16.20" height="3.80" rx="1.73" fill-opacity="0.97"/>
<rect x="487.90" y="190.30" width="16.20" height="3.80" rx="1.73" fill-opacity="0.97"/>
<rect x="503.40" y="190.50" width="16.20" height="3.80" rx="1.73" fill-opacity="0.97"/>
<rect x="519.20" y="189.90" width="16.20" height="3.80" rx="1.73" fill-opacity="0.97"/>
<rect x="535.20" y="188.70" width="16.20" height="3.80" rx="1.73" fill-opacity="0.97"/>
</g>
<g filter="url(#b3)" fill="#000">
<rect x="423.25" y="185.00" width="15.50" height="14.00" rx="6.36" fill-opacity="0.12"/>
<rect x="439.75" y="185.00" width="15.50" height="14.00" rx="6.36" fill-opacity="0.12"/>
<rect x="456.25" y="185.00" width="15.50" height="14.00" rx="6.36" fill-opacity="0.12"/>
<rect x="471.75" y="185.00" width="15.50" height="14.00" rx="6.36" fill-opacity="0.12"/>
<rect x="488.25" y="185.00" width="15.50" height="14.00" rx="6.36" fill-opacity="0.12"/>
<rect x="503.75" y="185.00" width="15.50" height="14.00" rx="6.36" fill-opacity="0.12"/>
<rect x="519.55" y="185.00" width="15.50" height="14.00" rx="6.36" fill-opacity="0.12"/>
<rect x="535.55" y="185.00" width="15.50" height="14.00" rx="6.36" fill-opacity="0.12"/>
</g>
</g>
<clipPath id="c7"><rect x="631.8" y="36.7" width="131.00" height="29.70"/></clipPath>
<g clip-path="url(#c7)">
<rect x="631.8" y="36.7" width="131.00" height="29.70" fill="#b4b4b4"/>
<g filter="url(#b1)" fill="#000">
<rect x="635.67" y="42.25" width="15.66" height="5.50" rx="2.50" fill-opacity="0.97"/>
<rect x="651.67" y="44.07" width="15.66" height="5.27" rx="2.40" fill-opacity="0.92"/>
<rect x="667.17" y="44.63" width="15.66" height="5.73" rx="2.60" fill-opacity="0.95"/>
<rect x="682.17" y="45.13" width="15.66" height="5.73" rx="2.60" fill-opacity="0.9"/>
<rect x="697.17" y="45.02" width="15.66" height="5.96" rx="2.71" fill-opacity="0.95"/>
<rect x="712.67" y="44.93" width="15.66" height="5.73" rx="2.60" fill-opacity="0.95"/>
<rect x="728.17" y="44.25" width="15.66" height="5.50" rx="2.50" fill-opacity="0.8"/>
<rect x="743.67" y="43.71" width="15.66" height="4.58" rx="2.08" fill-opacity="0.45"/>
<rect x="636.48" y="54.37" width="14.04" height="3.66" rx="1.66" fill-opacity="0.15"/>
<rect x="652.48" y="55.05" width="14.04" height="3.89" rx="1.77" fill-opacity="0.3"/>
<rect x="667.17" y="56.08" width="15.66" height="5.04" rx="2.29" fill-opacity="0.92"/>
<rect x="682.17" y="55.97" width="15.66" height="5.27" rx="2.40" fill-opacity="0.97"/>
<rect x="698.25" y="56.14" width="13.50" height="4.12" rx="1.87" fill-opacity="0.45"/>
<rect x="712.67" y="55.37" width="15.66" height="5.27" rx="2.40" fill-opacity="0.97"/>
<rect x="727.36" y="55.51" width="17.28" height="6.19" rx="2.81" fill-opacity="1"/>
<rect x="742.86" y="54.51" width="17.28" height="6.19" rx="2.81" fill-opacity="1"/>
</g>
<g filter="url(#b3)" fill="#000">
<rect x="668.00" y="49.00" width="14.00" height="8.00" rx="3.64" fill-opacity="0.12"/>
<rect x="683.00" y="49.00" width="14.00" height="8.00" rx="3.64" fill-opacity="0.18"/>
<rect x="713.50" y="49.00" width="14.00" height="8.00" rx="3.64" fill-opacity="0.05"/>
<rect x="729.00" y="49.00" width="14.00" height="8.00" rx="3.64" fill-opacity="0.2"/>
<rect x="744.50" y="49.00" width="14.00" height="8.00" rx="3.64" fill-opacity="0.12"/>
<rect x="637.00" y="32.00" width="13.00" height="40.00" rx="5.91" fill-opacity="0.05"/>
<rect x="653.00" y="32.00" width="13.00" height="40.00" rx="5.91" fill-opacity="0.05"/>
<rect x="668.50" y="32.00" width="13.00" height="40.00" rx="5.91" fill-opacity="0.1"/>
<rect x="683.50" y="32.00" width="13.00" height="40.00" rx="5.91" fill-opacity="0.12"/>
<rect x="698.50" y="32.00" width="13.00" height="40.00" rx="5.91" fill-opacity="0.06"/>
<rect x="714.00" y="32.00" width="13.00" height="40.00" rx="5.91" fill-opacity="0.08"/>
<rect x="729.50" y="32.00" width="13.00" height="40.00" rx="5.91" fill-opacity="0.12"/>
<rect x="745.00" y="32.00" width="13.00" height="40.00" rx="5.91" fill-opacity="0.08"/>
</g>
</g>
<clipPath id="c8"><rect x="631.8" y="68" width="131.00" height="16.60"/></clipPath>
<g clip-path="url(#c8)">
<rect x="631.8" y="68" width="131.00" height="16.60" fill="#bbbbbb"/>
<g filter="url(#b1)" fill="#000">
<rect x="668.25" y="74.58" width="13.50" height="2.84" rx="1.29" fill-opacity="0.04"/>
<rect x="683.25" y="74.58" width="13.50" height="2.84" rx="1.29" fill-opacity="0.08"/>
<rect x="713.75" y="74.58" width="13.50" height="2.84" rx="1.29" fill-opacity="0.1"/>
<rect x="729.25" y="74.58" width="13.50" height="2.84" rx="1.29" fill-opacity="0.25"/>
<rect x="744.75" y="74.58" width="13.50" height="2.84" rx="1.29" fill-opacity="0.62"/>
</g>
</g>
<clipPath id="c9"><rect x="631.8" y="86.9" width="131.00" height="16.20"/></clipPath>
<g clip-path="url(#c9)">
<rect x="631.8" y="86.9" width="131.00" height="16.20" fill="#b9b9b9"/>
<g filter="url(#b1)" fill="#000">
<rect x="652.75" y="89.46" width="13.50" height="3.08" rx="1.40" fill-opacity="0.1"/>
<rect x="668.25" y="89.16" width="13.50" height="3.08" rx="1.40" fill-opacity="0.4"/>
<rect x="683.25" y="89.16" width="13.50" height="3.08" rx="1.40" fill-opacity="0.45"/>
<rect x="713.75" y="90.66" width="13.50" height="3.08" rx="1.40" fill-opacity="0.7"/>
<rect x="729.25" y="89.66" width="13.50" height="3.08" rx="1.40" fill-opacity="0.4"/>
<rect x="744.75" y="89.66" width="13.50" height="3.08" rx="1.40" fill-opacity="0.3"/>
<rect x="653.02" y="96.76" width="12.96" height="3.08" rx="1.40" fill-opacity="0.08"/>
<rect x="667.98" y="96.27" width="14.04" height="3.65" rx="1.66" fill-opacity="0.72"/>
<rect x="682.98" y="96.16" width="14.04" height="3.88" rx="1.76" fill-opacity="0.82"/>
<rect x="698.52" y="96.76" width="12.96" height="3.08" rx="1.40" fill-opacity="0.05"/>
<rect x="713.21" y="97.13" width="14.58" height="4.34" rx="1.97" fill-opacity="0.88"/>
<rect x="728.71" y="96.44" width="14.58" height="4.11" rx="1.87" fill-opacity="0.92"/>
<rect x="743.94" y="96.43" width="15.12" height="4.34" rx="1.97" fill-opacity="0.97"/>
</g>
</g>
<clipPath id="c10"><rect x="631.8" y="105.1" width="131.00" height="14.60"/></clipPath>
<g clip-path="url(#c10)">
<rect x="631.8" y="105.1" width="131.00" height="14.60" fill="#bcbcbc"/>
<g filter="url(#b1)" fill="#000">
<rect x="668.52" y="112.98" width="12.96" height="2.04" rx="0.93" fill-opacity="0.25"/>
<rect x="683.25" y="112.64" width="13.50" height="1.92" rx="0.87" fill-opacity="0.85"/>
<rect x="714.02" y="112.98" width="12.96" height="2.04" rx="0.93" fill-opacity="0.2"/>
<rect x="728.98" y="111.09" width="14.04" height="3.42" rx="1.55" fill-opacity="0.5"/>
<rect x="744.21" y="111.18" width="14.58" height="2.04" rx="0.93" fill-opacity="0.97"/>
</g>
</g>
<clipPath id="c11"><rect x="631.8" y="121.2" width="131.00" height="61.70"/></clipPath>
<g clip-path="url(#c11)">
<rect x="631.8" y="121.2" width="131.00" height="61.70" fill="#bfbfbf"/>
<g filter="url(#b3)" fill="#fff">
<rect x="638.50" y="122.50" width="10.00" height="9.00" rx="3" fill-opacity="0.3"/>
<rect x="700.00" y="123.00" width="10.00" height="10.00" rx="3" fill-opacity="0.3"/>
<rect x="638.00" y="148.00" width="11.00" height="28.00" rx="3" fill-opacity="0.25"/>
<rect x="654.00" y="148.00" width="11.00" height="28.00" rx="3" fill-opacity="0.22"/>
<rect x="700.50" y="152.00" width="9.00" height="12.00" rx="3" fill-opacity="0.12"/>
</g>
<g filter="url(#b1)" fill="#000">
<rect x="636.21" y="133.20" width="14.58" height="2.19" rx="1.00" fill-opacity="0.9"/>
<rect x="652.21" y="134.52" width="14.58" height="2.77" rx="1.26" fill-opacity="0.9"/>
<rect x="666.90" y="131.80" width="16.20" height="7.60" rx="3.45" fill-opacity="1"/>
<rect x="682.44" y="131.80" width="15.12" height="7.60" rx="3.45" fill-opacity="1"/>
<rect x="697.71" y="134.02" width="14.58" height="2.77" rx="1.26" fill-opacity="0.95"/>
<rect x="712.40" y="131.03" width="16.20" height="8.75" rx="3.98" fill-opacity="1"/>
<rect x="727.36" y="128.90" width="17.28" height="12.20" rx="5.55" fill-opacity="1"/>
<rect x="742.59" y="128.90" width="17.82" height="12.20" rx="5.55" fill-opacity="1"/>
<rect x="636.21" y="144.77" width="14.58" height="3.46" rx="1.57" fill-opacity="0.1"/>
<rect x="652.21" y="144.77" width="14.58" height="3.46" rx="1.57" fill-opacity="0.1"/>
<rect x="667.71" y="144.11" width="14.58" height="4.38" rx="1.99" fill-opacity="0.88"/>
<rect x="682.71" y="144.11" width="14.58" height="4.38" rx="1.99" fill-opacity="0.88"/>
<rect x="697.71" y="144.77" width="14.58" height="3.46" rx="1.57" fill-opacity="0.3"/>
<rect x="713.21" y="144.01" width="14.58" height="4.38" rx="1.99" fill-opacity="0.82"/>
<rect x="728.71" y="141.74" width="14.58" height="5.53" rx="2.51" fill-opacity="0.95"/>
<rect x="744.21" y="140.84" width="14.58" height="5.53" rx="2.51" fill-opacity="0.95"/>
<rect x="667.98" y="154.23" width="14.04" height="4.15" rx="1.89" fill-opacity="0.35"/>
<rect x="682.98" y="153.93" width="14.04" height="4.15" rx="1.89" fill-opacity="0.68"/>
<rect x="697.98" y="154.33" width="14.04" height="4.15" rx="1.89" fill-opacity="0.1"/>
<rect x="713.48" y="153.93" width="14.04" height="4.15" rx="1.89" fill-opacity="0.38"/>
<rect x="728.98" y="153.01" width="14.04" height="4.38" rx="1.99" fill-opacity="0.82"/>
<rect x="744.48" y="151.88" width="14.04" height="4.84" rx="2.20" fill-opacity="0.9"/>
<rect x="668.25" y="160.47" width="13.50" height="3.46" rx="1.57" fill-opacity="0.2"/>
<rect x="683.25" y="160.27" width="13.50" height="3.46" rx="1.57" fill-opacity="0.3"/>
<rect x="713.75" y="161.57" width="13.50" height="3.46" rx="1.57" fill-opacity="0.18"/>
<rect x="729.25" y="160.87" width="13.50" height="3.46" rx="1.57" fill-opacity="0.32"/>
<rect x="744.75" y="158.87" width="13.50" height="3.46" rx="1.57" fill-opacity="0.42"/>
<rect x="667.98" y="167.33" width="14.04" height="4.15" rx="1.89" fill-opacity="0.72"/>
<rect x="682.71" y="167.01" width="14.58" height="4.38" rx="1.99" fill-opacity="0.88"/>
<rect x="698.52" y="168.17" width="12.96" height="3.46" rx="1.57" fill-opacity="0.25"/>
<rect x="713.48" y="166.93" width="14.04" height="4.15" rx="1.89" fill-opacity="0.85"/>
<rect x="728.44" y="165.75" width="15.12" height="5.30" rx="2.41" fill-opacity="0.93"/>
<rect x="743.67" y="165.00" width="15.66" height="5.99" rx="2.72" fill-opacity="0.97"/>
<rect x="668.25" y="171.69" width="13.50" height="3.23" rx="1.47" fill-opacity="0.2"/>
<rect x="683.25" y="171.69" width="13.50" height="3.23" rx="1.47" fill-opacity="0.4"/>
<rect x="698.25" y="171.38" width="13.50" height="3.23" rx="1.47" fill-opacity="0.2"/>
<rect x="713.75" y="171.08" width="13.50" height="3.23" rx="1.47" fill-opacity="0.3"/>
<rect x="729.25" y="170.88" width="13.50" height="3.23" rx="1.47" fill-opacity="0.35"/>
<rect x="744.75" y="170.88" width="13.50" height="3.23" rx="1.47" fill-opacity="0.45"/>
</g>
<g filter="url(#b2)" fill="#000">
<rect x="668.50" y="127.50" width="13.00" height="9.00" rx="4.09" fill-opacity="0.9"/>
<rect x="683.75" y="120.00" width="12.50" height="18.00" rx="5.68" fill-opacity="1.0"/>
<rect x="713.50" y="130.00" width="14.00" height="6.00" rx="2.73" fill-opacity="0.9"/>
<rect x="728.50" y="127.50" width="15.00" height="9.00" rx="4.09" fill-opacity="0.95"/>
<rect x="744.00" y="127.50" width="15.00" height="9.00" rx="4.09" fill-opacity="0.97"/>
</g>
<g filter="url(#b3)" fill="#000">
<rect x="655.00" y="122.50" width="9.00" height="9.00" rx="4.09" fill-opacity="0.25"/>
<rect x="716.50" y="123.00" width="8.00" height="6.00" rx="2.73" fill-opacity="0.3"/>
<rect x="668.50" y="130.00" width="13.00" height="44.00" rx="5.91" fill-opacity="0.1"/>
<rect x="683.50" y="130.00" width="13.00" height="44.00" rx="5.91" fill-opacity="0.14"/>
<rect x="714.00" y="130.00" width="13.00" height="44.00" rx="5.91" fill-opacity="0.08"/>
<rect x="729.50" y="130.00" width="13.00" height="44.00" rx="5.91" fill-opacity="0.15"/>
<rect x="745.00" y="130.00" width="13.00" height="44.00" rx="5.91" fill-opacity="0.2"/>
<rect x="636.75" y="117.00" width="13.50" height="70.00" rx="6.14" fill-opacity="0.03"/>
<rect x="652.75" y="117.00" width="13.50" height="70.00" rx="6.14" fill-opacity="0.03"/>
<rect x="668.25" y="117.00" width="13.50" height="70.00" rx="6.14" fill-opacity="0.12"/>
<rect x="683.25" y="117.00" width="13.50" height="70.00" rx="6.14" fill-opacity="0.14"/>
<rect x="698.25" y="117.00" width="13.50" height="70.00" rx="6.14" fill-opacity="0.06"/>
<rect x="713.75" y="117.00" width="13.50" height="70.00" rx="6.14" fill-opacity="0.12"/>
<rect x="729.25" y="117.00" width="13.50" height="70.00" rx="6.14" fill-opacity="0.15"/>
<rect x="744.75" y="117.00" width="13.50" height="70.00" rx="6.14" fill-opacity="0.18"/>
<rect x="668.25" y="174.00" width="13.50" height="8.00" rx="3.64" fill-opacity="0.15"/>
<rect x="683.25" y="174.00" width="13.50" height="8.00" rx="3.64" fill-opacity="0.18"/>
<rect x="698.25" y="174.00" width="13.50" height="8.00" rx="3.64" fill-opacity="0.1"/>
<rect x="713.75" y="174.00" width="13.50" height="8.00" rx="3.64" fill-opacity="0.15"/>
<rect x="729.25" y="174.00" width="13.50" height="8.00" rx="3.64" fill-opacity="0.18"/>
<rect x="744.75" y="174.00" width="13.50" height="8.00" rx="3.64" fill-opacity="0.2"/>
</g>
</g>
<clipPath id="c12"><rect x="631.8" y="184.8" width="131.00" height="13.60"/></clipPath>
<g clip-path="url(#c12)">
<rect x="631.8" y="184.8" width="131.00" height="13.60" fill="#9a9a9a"/>
<g filter="url(#b1)" fill="#000">
<rect x="635.40" y="190.27" width="16.20" height="3.46" rx="1.57" fill-opacity="0.97"/>
<rect x="651.40" y="190.67" width="16.20" height="3.46" rx="1.57" fill-opacity="0.97"/>
<rect x="666.90" y="190.75" width="16.20" height="3.69" rx="1.68" fill-opacity="0.97"/>
<rect x="681.90" y="190.35" width="16.20" height="3.69" rx="1.68" fill-opacity="0.97"/>
<rect x="696.90" y="190.56" width="16.20" height="3.69" rx="1.68" fill-opacity="0.97"/>
<rect x="712.40" y="190.67" width="16.20" height="3.46" rx="1.57" fill-opacity="0.97"/>
<rect x="727.90" y="189.47" width="16.20" height="3.46" rx="1.57" fill-opacity="0.97"/>
<rect x="743.40" y="187.61" width="16.20" height="4.38" rx="1.99" fill-opacity="0.97"/>
</g>
<g filter="url(#b3)" fill="#000">
<rect x="635.75" y="185.00" width="15.50" height="14.00" rx="6.36" fill-opacity="0.12"/>
<rect x="651.75" y="185.00" width="15.50" height="14.00" rx="6.36" fill-opacity="0.12"/>
<rect x="667.25" y="185.00" width="15.50" height="14.00" rx="6.36" fill-opacity="0.12"/>
<rect x="682.25" y="185.00" width="15.50" height="14.00" rx="6.36" fill-opacity="0.12"/>
<rect x="697.25" y="185.00" width="15.50" height="14.00" rx="6.36" fill-opacity="0.12"/>
<rect x="712.75" y="185.00" width="15.50" height="14.00" rx="6.36" fill-opacity="0.12"/>
<rect x="728.25" y="185.00" width="15.50" height="14.00" rx="6.36" fill-opacity="0.12"/>
<rect x="743.75" y="185.00" width="15.50" height="14.00" rx="6.36" fill-opacity="0.12"/>
</g>
</g>
<text transform="translate(451.90,20.20) scale(0.69,1)" font-size="9.2" font-weight="normal" text-anchor="middle" fill="#111" stroke="#111" stroke-width="0.3">control</text>
<text transform="translate(518.40,21.10) scale(0.69,1)" font-size="9.0" font-weight="normal" text-anchor="middle" fill="#111" stroke="#111" stroke-width="0.3">UBC13 DN</text>
<path d="M425.2,27.8V23.6H487.3V27.8" fill="none" stroke="#111" stroke-width="1.6" stroke-linejoin="round"/>
<path d="M489.3,27.8V23.6H551.3V27.8" fill="none" stroke="#111" stroke-width="1.6" stroke-linejoin="round"/>
<text transform="translate(417.90,34.90) scale(0.675,1)" font-size="9.2" font-weight="normal" text-anchor="end" fill="#111" stroke="#111" stroke-width="0.3">TNF (hours)</text>
<text transform="translate(431.00,34.60) scale(0.9,1)" font-size="7.9" font-weight="normal" text-anchor="middle" fill="#111" stroke="#111" stroke-width="0.3">0</text>
<text transform="translate(448.00,34.60) scale(0.9,1)" font-size="7.9" font-weight="normal" text-anchor="middle" fill="#111" stroke="#111" stroke-width="0.3">2</text>
<text transform="translate(464.30,34.60) scale(0.9,1)" font-size="7.9" font-weight="normal" text-anchor="middle" fill="#111" stroke="#111" stroke-width="0.3">4</text>
<text transform="translate(479.50,34.60) scale(0.9,1)" font-size="7.9" font-weight="normal" text-anchor="middle" fill="#111" stroke="#111" stroke-width="0.3">8</text>
<text transform="translate(496.10,34.60) scale(0.9,1)" font-size="7.9" font-weight="normal" text-anchor="middle" fill="#111" stroke="#111" stroke-width="0.3">0</text>
<text transform="translate(511.40,34.60) scale(0.9,1)" font-size="7.9" font-weight="normal" text-anchor="middle" fill="#111" stroke="#111" stroke-width="0.3">2</text>
<text transform="translate(528.00,34.60) scale(0.9,1)" font-size="7.9" font-weight="normal" text-anchor="middle" fill="#111" stroke="#111" stroke-width="0.3">4</text>
<text transform="translate(543.70,34.60) scale(0.9,1)" font-size="7.9" font-weight="normal" text-anchor="middle" fill="#111" stroke="#111" stroke-width="0.3">8</text>
<text transform="translate(412.30,64.60) scale(0.68,1)" font-size="10" font-weight="normal" text-anchor="end" fill="#111" stroke="#111" stroke-width="0.3">Caspase8</text>
<path d="M419,37.3H413.9V85.4H419" fill="none" stroke="#111" stroke-width="1.6"/>
<text transform="translate(418.60,99.30) scale(0.673,1)" font-size="9.9" font-weight="normal" text-anchor="end" fill="#111" stroke="#111" stroke-width="0.3">Caspase3</text>
<text transform="translate(418.60,115.80) scale(0.62,1)" font-size="9.9" font-weight="normal" text-anchor="end" fill="#111" stroke="#111" stroke-width="0.3">PARP</text>
<text transform="translate(418.60,131.00) scale(0.62,1)" font-size="9.9" font-weight="normal" text-anchor="end" fill="#111" stroke="#111" stroke-width="0.3">PARP</text>
<text transform="translate(418.40,143.80) scale(0.735,1)" font-size="9.6" font-weight="normal" text-anchor="end" fill="#111" stroke="#111" stroke-width="0.3">(long exp.)</text>
<text transform="translate(419.10,194.90) scale(0.68,1)" font-size="9.6" font-weight="normal" text-anchor="end" fill="#111" stroke="#111" stroke-width="0.3">ZAP70</text>
<text transform="translate(555.90,50.30) scale(0.69,1)" font-size="9.0" font-weight="normal" text-anchor="start" fill="#111" stroke="#111" stroke-width="0.3">p57</text>
<text transform="translate(555.90,60.90) scale(0.69,1)" font-size="9.0" font-weight="normal" text-anchor="start" fill="#111" stroke="#111" stroke-width="0.3">p43/41</text>
<text transform="translate(555.90,78.20) scale(0.69,1)" font-size="9.0" font-weight="normal" text-anchor="start" fill="#111" stroke="#111" stroke-width="0.3">p18</text>
<text transform="translate(555.90,97.50) scale(0.69,1)" font-size="9.0" font-weight="normal" text-anchor="start" fill="#111" stroke="#111" stroke-width="0.3">p17/19</text>
<text transform="translate(555.90,114.00) scale(0.69,1)" font-size="9.0" font-weight="normal" text-anchor="start" fill="#111" stroke="#111" stroke-width="0.3">p89</text>
<text transform="translate(555.90,139.30) scale(0.69,1)" font-size="9.0" font-weight="normal" text-anchor="start" fill="#111" stroke="#111" stroke-width="0.3">p89</text>
<path d="M555.8,144.2H559.4V178.9H555.8" fill="none" stroke="#111" stroke-width="1.4"/>
<text transform="translate(561.60,151.80) scale(0.73,1)" font-size="8.8" font-weight="normal" text-anchor="start" fill="#111" stroke="#111" stroke-width="0.3">PARP</text>
<text transform="translate(561.60,171.70) scale(0.73,1)" font-size="8.8" font-weight="normal" text-anchor="start" fill="#111" stroke="#111" stroke-width="0.3">products</text>
<text transform="translate(561.6,161.7) scale(0.8,1)" font-size="8.8" fill="#111" stroke="#111" stroke-width="0.3">cle<tspan font-size="6.16" stroke-width="0.15" dy="-0.6">avag</tspan><tspan dx="1.6" dy="0.6">e</tspan></text>
<text transform="translate(667.80,19.35) scale(0.655,1)" font-size="9.0" font-weight="normal" text-anchor="middle" fill="#111" stroke="#111" stroke-width="0.3">control</text>
<text transform="translate(727.80,19.00) scale(0.625,1)" font-size="9.3" font-weight="normal" text-anchor="middle" fill="#111" stroke="#111" stroke-width="0.3">TRAF2 DN</text>
<path d="M637.9,27.400000000000002V23.1H697.9V27.400000000000002" fill="none" stroke="#111" stroke-width="1.6" stroke-linejoin="round"/>
<path d="M699.7,27.400000000000002V23.1H759.5V27.400000000000002" fill="none" stroke="#111" stroke-width="1.6" stroke-linejoin="round"/>
<text transform="translate(631.00,34.60) scale(0.66,1)" font-size="9.0" font-weight="normal" text-anchor="end" fill="#111" stroke="#111" stroke-width="0.3">TNF (hours)</text>
<text transform="translate(644.90,35.10) scale(0.9,1)" font-size="7.8" font-weight="normal" text-anchor="middle" fill="#111" stroke="#111" stroke-width="0.3">0</text>
<text transform="translate(659.75,35.10) scale(0.9,1)" font-size="7.8" font-weight="normal" text-anchor="middle" fill="#111" stroke="#111" stroke-width="0.3">2</text>
<text transform="translate(675.90,35.10) scale(0.9,1)" font-size="7.8" font-weight="normal" text-anchor="middle" fill="#111" stroke="#111" stroke-width="0.3">4</text>
<text transform="translate(689.90,35.10) scale(0.9,1)" font-size="7.8" font-weight="normal" text-anchor="middle" fill="#111" stroke="#111" stroke-width="0.3">8</text>
<text transform="translate(705.25,35.10) scale(0.9,1)" font-size="7.8" font-weight="normal" text-anchor="middle" fill="#111" stroke="#111" stroke-width="0.3">0</text>
<text transform="translate(721.00,35.10) scale(0.9,1)" font-size="7.8" font-weight="normal" text-anchor="middle" fill="#111" stroke="#111" stroke-width="0.3">2</text>
<text transform="translate(735.90,35.10) scale(0.9,1)" font-size="7.8" font-weight="normal" text-anchor="middle" fill="#111" stroke="#111" stroke-width="0.3">4</text>
<text transform="translate(751.10,35.10) scale(0.9,1)" font-size="7.8" font-weight="normal" text-anchor="middle" fill="#111" stroke="#111" stroke-width="0.3">8</text>
<text transform="translate(622.20,65.60) scale(0.675,1)" font-size="10" font-weight="normal" text-anchor="end" fill="#111" stroke="#111" stroke-width="0.3">Caspase8</text>
<path d="M631,38H625.1V85.8H631" fill="none" stroke="#111" stroke-width="1.6"/>
<text transform="translate(629.40,99.50) scale(0.673,1)" font-size="9.8" font-weight="normal" text-anchor="end" fill="#111" stroke="#111" stroke-width="0.3">Caspase3</text>
<text transform="translate(629.40,116.00) scale(0.62,1)" font-size="9.8" font-weight="normal" text-anchor="end" fill="#111" stroke="#111" stroke-width="0.3">PARP</text>
<text transform="translate(629.40,131.10) scale(0.62,1)" font-size="9.8" font-weight="normal" text-anchor="end" fill="#111" stroke="#111" stroke-width="0.3">PARP</text>
<text transform="translate(629.80,143.90) scale(0.75,1)" font-size="9.5" font-weight="normal" text-anchor="end" fill="#111" stroke="#111" stroke-width="0.3">(long exp.)</text>
<text transform="translate(630.50,195.30) scale(0.69,1)" font-size="9.5" font-weight="normal" text-anchor="end" fill="#111" stroke="#111" stroke-width="0.3">ZAP70</text>
<text transform="translate(763.50,48.50) scale(0.69,1)" font-size="9.0" font-weight="normal" text-anchor="start" fill="#111" stroke="#111" stroke-width="0.3">p57</text>
<text transform="translate(763.50,60.20) scale(0.69,1)" font-size="9.0" font-weight="normal" text-anchor="start" fill="#111" stroke="#111" stroke-width="0.3">p43/41</text>
<text transform="translate(763.50,79.50) scale(0.69,1)" font-size="9.0" font-weight="normal" text-anchor="start" fill="#111" stroke="#111" stroke-width="0.3">p18</text>
<text transform="translate(763.50,98.70) scale(0.69,1)" font-size="9.0" font-weight="normal" text-anchor="start" fill="#111" stroke="#111" stroke-width="0.3">p17/19</text>
<text transform="translate(763.50,114.20) scale(0.69,1)" font-size="9.0" font-weight="normal" text-anchor="start" fill="#111" stroke="#111" stroke-width="0.3">p89</text>
<text transform="translate(763.50,134.20) scale(0.69,1)" font-size="9.0" font-weight="normal" text-anchor="start" fill="#111" stroke="#111" stroke-width="0.3">p89</text>
<path d="M762.9,138.9H765.9V173.2H762.9" fill="none" stroke="#111" stroke-width="1.4"/>
<text transform="translate(768.00,146.00) scale(0.72,1)" font-size="8.8" font-weight="normal" text-anchor="start" fill="#111" stroke="#111" stroke-width="0.3">PARP</text>
<text transform="translate(768,155.5) scale(0.78,1)" font-size="8.6" fill="#111" stroke="#111" stroke-width="0.3">cle<tspan font-size="6.02" stroke-width="0.15" dy="-0.6">avag</tspan><tspan dx="1.6" dy="0.6">e</tspan></text>
<text transform="translate(768.00,165.60) scale(0.7,1)" font-size="8.8" font-weight="normal" text-anchor="start" fill="#111" stroke="#111" stroke-width="0.3">products</text>
</svg>
</body>
</html>
